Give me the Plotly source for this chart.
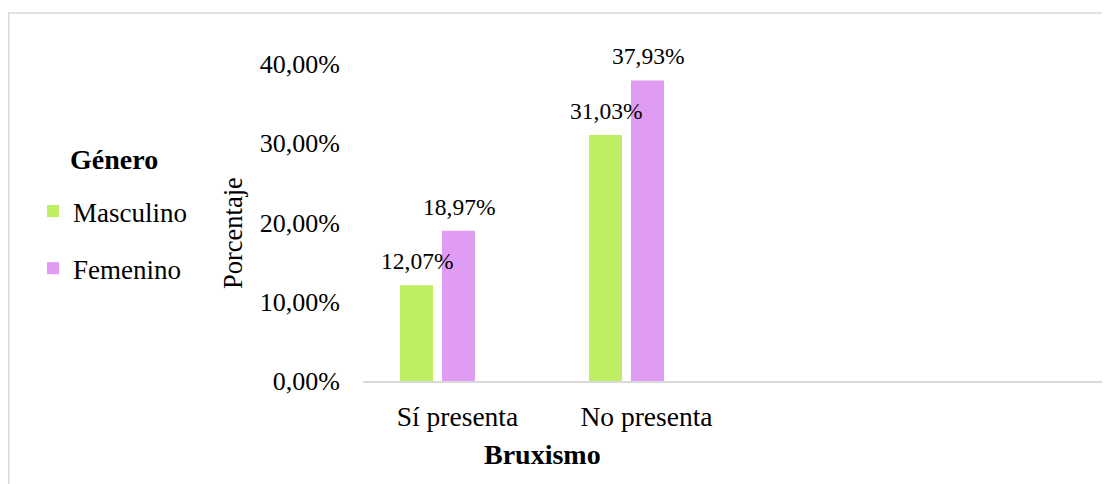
import plotly.graph_objects as go

categories = ["Sí presenta", "No presenta"]
masculino = [12.07, 31.03]
femenino = [18.97, 37.93]
series_names = ["Masculino", "Femenino"]
colors = ["#bfed63", "#e09cf2"]
y_ticks = [0, 10, 20, 30, 40]
y_tick_labels = ["0,00%", "10,00%", "20,00%", "30,00%", "40,00%"]

FONT = "Liberation Serif"

OFF = 8  # default page body margin
W, H = 1110 - OFF, 484 - OFF
ML, MR, MT, MB = 363 - OFF, 0, 64 - OFF, 103
PW, PH = W - ML - MR, H - MT - MB


def px_x(p):
    return (p - OFF - ML) / PW


def px_y(p):
    return (H - MB - (p - OFF)) / PH


def fmt(v):
    return f"{v:.2f}".replace(".", ",") + "%"


fig = go.Figure()
for name, vals, col in zip(series_names, [masculino, femenino], colors):
    fig.add_trace(go.Bar(
        x=categories, y=vals, name=name,
        marker=dict(color=col, line=dict(width=0)),
        legendgroup=name,
    ))

annotations = []
for shift, vals in zip([-21, 21], [masculino, femenino]):
    for c, v in zip(categories, vals):
        annotations.append(dict(
            x=c, y=v, xref="x", yref="y", text=fmt(v), showarrow=False,
            xshift=shift, yshift=24, yanchor="middle", xanchor="center",
            font=dict(family=FONT, size=23.5, color="#000000"),
        ))

annotations.append(dict(
    x=px_x(542), y=px_y(455), xref="paper", yref="paper", text="<b>Bruxismo</b>",
    showarrow=False, xanchor="center", yanchor="middle",
    font=dict(family=FONT, size=28, color="#000000"),
))
annotations.append(dict(
    x=px_x(233), y=px_y(233), xref="paper", yref="paper", text="Porcentaje",
    showarrow=False, xanchor="center", yanchor="middle", textangle=-90,
    font=dict(family=FONT, size=26.5, color="#000000"),
))
annotations.append(dict(
    x=px_x(114), y=px_y(159), xref="paper", yref="paper", text="<b>Género</b>",
    showarrow=False, xanchor="center", yanchor="middle",
    font=dict(family=FONT, size=28, color="#000000"),
))

fig.update_layout(
    width=W, height=H, autosize=False,
    margin=dict(l=ML, r=MR, t=MT, b=MB, pad=0),
    paper_bgcolor="white", plot_bgcolor="white",
    barmode="group", bargap=0.556, bargroupgap=0.214,
    font=dict(family=FONT, size=26, color="#000000"),
    showlegend=True,
    legend=dict(
        x=px_x(33), y=px_y(187), xref="paper", yref="paper",
        xanchor="left", yanchor="top",
        font=dict(family=FONT, size=27, color="#000000"),
        tracegroupgap=19, traceorder="grouped",
        bgcolor="rgba(0,0,0,0)",
    ),
    annotations=annotations,
    shapes=[dict(
        type="rect", xref="paper", yref="paper",
        x0=(0.75 - ML) / PW, x1=1.05, y0=-0.6, y1=(H - MB - 5) / PH,
        line=dict(color="#d9d9d9", width=1.5), layer="below",
    )],
)

fig.update_xaxes(
    type="category", range=[-(437.5 - 363) / 189, (1110 - 437.5) / 189],
    showline=True, linecolor="#d9d9d9", linewidth=1.5,
    showgrid=False, zeroline=False, ticks="",
    ticklabelstandoff=10, ticklabelshift=20,
    tickfont=dict(family=FONT, size=27.5, color="#000000"),
)
fig.update_yaxes(
    range=[0, 40], tickvals=y_ticks, ticktext=y_tick_labels,
    showline=False, showgrid=False, zeroline=False, ticks="",
    ticklabelstandoff=22,
    tickfont=dict(family=FONT, size=26, color="#000000"),
)

fig.write_html("out.html")
